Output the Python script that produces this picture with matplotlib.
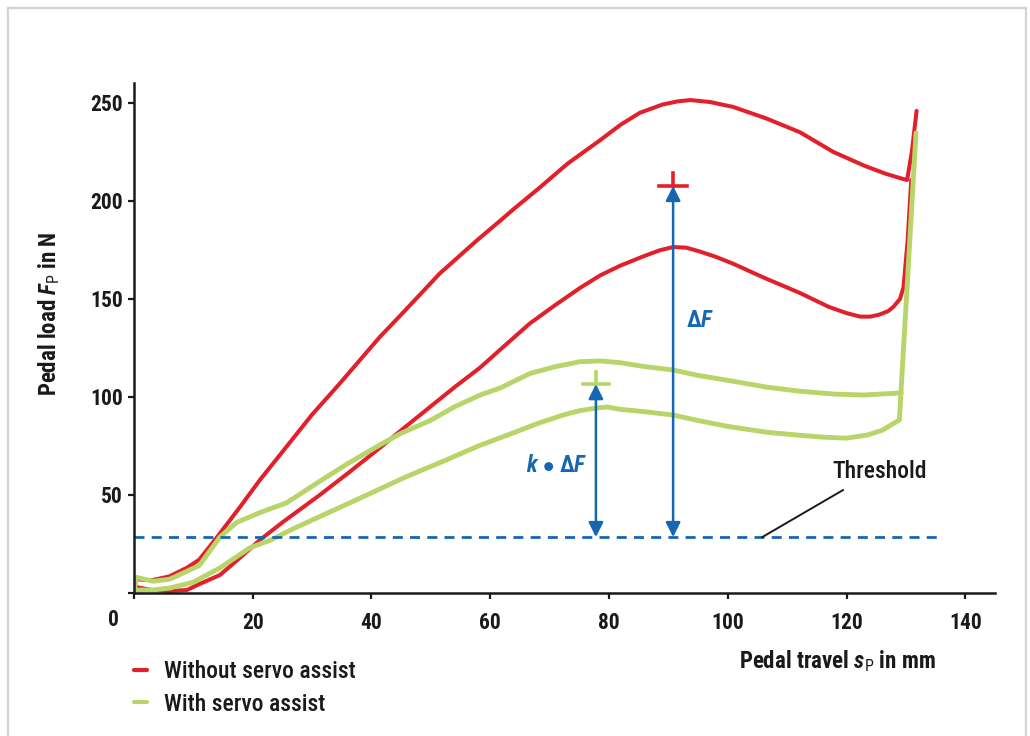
import matplotlib
matplotlib.use("Agg")
import matplotlib.pyplot as plt
from matplotlib.lines import Line2D
from matplotlib import font_manager

# pick a narrow font if one is installed
installed = {f.name for f in font_manager.fontManager.ttflist}
FONT = 'DejaVu Sans'
for cand in ['Roboto Condensed', 'Liberation Sans Narrow', 'Open Sans Condensed', 'Roboto']:
    if cand in installed:
        FONT = cand
        break

plt.rcParams['font.family'] = [FONT, 'DejaVu Sans']
plt.rcParams['mathtext.fontset'] = 'custom'
plt.rcParams['mathtext.rm'] = FONT
plt.rcParams['mathtext.bf'] = FONT + ':bold'
plt.rcParams['mathtext.it'] = FONT + ':italic'
plt.rcParams['mathtext.bfit'] = FONT + ':italic:bold'

# without servo assist, upper branch
red_up_x = [0, 0.4, 3, 6, 9, 11, 14, 17.9, 21.2, 25, 30, 34.7, 41.4, 45, 51.5, 57.8, 61.7, 64, 68.4, 73,
            78.5, 82, 85.2, 89, 91.5, 93.7, 97, 100.9, 106.6, 112.2, 117.8, 123, 126.5, 129, 130.2, 131, 131.8]
red_up_y = [0, 7, 6.5, 8.5, 13, 17, 28.5, 44, 57.6, 72, 91, 107, 130.6, 142, 163, 180, 190, 196, 207, 219,
            231, 239, 245, 249.2, 250.8, 251.5, 250.5, 248, 242, 235, 225, 218, 214, 211.7, 210.7, 225, 246]

# without servo assist, lower branch
red_low_x = [0, 0.4, 3, 6, 8.9, 11, 14.5, 17.5, 21.2, 25, 31.3, 36, 41.4, 45, 49.9, 54, 58.3, 62, 66.7, 71,
             75.1, 78.5, 81.9, 86, 88.5, 90.8, 93, 95, 98, 100.9, 106, 112.2, 117, 120, 122.3, 124, 125.5,
             127, 127.9, 129, 129.6, 130.3, 130.9]
red_low_y = [0, 3, 1.5, 1, 1.5, 4.5, 9.2, 17, 27, 36, 50, 61, 74, 83, 95, 105, 115, 125, 137.6, 147,
             155.6, 162, 167, 172, 174.8, 176.5, 176.2, 174.5, 171.5, 168, 161, 153, 146, 142.8, 141, 141, 142,
             143.8, 146, 150, 156, 180, 210.7]

# with servo assist, upper branch
green_up_x = [0, 0.4, 3.2, 6, 11, 14.5, 17.3, 21.2, 25.7, 31.3, 36, 41.4, 45, 49.9, 54, 58.3, 61.7, 66.7,
              71, 75.1, 78.5, 81.9, 86, 90.8, 95, 100, 106.6, 112, 117.8, 123, 128.6, 129.2]
green_up_y = [0, 8, 6, 7, 14, 28.6, 36, 41, 46, 57, 66, 75.5, 81.5, 88, 95, 101, 104.6, 112,
              115.5, 118, 118.4, 117.5, 115.5, 113.8, 111, 108.5, 105, 103, 101.5, 101, 102, 102]

# with servo assist, lower branch
green_low_x = [0, 0.4, 3, 6, 10, 14.5, 19.5, 23, 27, 31.3, 36, 41, 46, 52.7, 58, 63.8, 68, 72.3, 75, 77.9,
               79.7, 81.9, 86, 90.8, 95, 100, 106.6, 112, 116, 120, 123.5, 126, 128.9, 131.7]
green_low_y = [0, 1.5, 1.5, 2.5, 5.5, 12.8, 23, 27, 33, 39, 45.5, 52.5, 59.5, 68, 75, 81.6, 86.5, 90.8, 93, 94.4,
               94.9, 93.7, 92.5, 90.8, 88, 85, 82, 80.5, 79.5, 79, 80.6, 83, 88.3, 234.7]

threshold = 28.5
threshold_end = 136.3
dF_x, dF_top = 90.8, 207.7
kdF_x, kdF_top = 77.8, 106.6

x_ticks = [0, 20, 40, 60, 80, 100, 120, 140]
y_ticks = [0, 50, 100, 150, 200, 250]

RED = '#e2202b'
GREEN = '#b7d568'
BLUE = '#1766b2'
INK = '#1a1a1a'

fig = plt.figure(figsize=(10.3, 7.36), dpi=100)
ax = fig.add_axes([0.130, 0.1943, 0.836, 0.6924])

ax.plot(red_up_x, red_up_y, color=RED, lw=2.9, solid_capstyle='round', solid_joinstyle='round',
        label='Without servo assist')
ax.plot(red_low_x, red_low_y, color=RED, lw=2.9, solid_capstyle='round', solid_joinstyle='round')
ax.plot(green_up_x, green_up_y, color=GREEN, lw=3.5, solid_capstyle='round', solid_joinstyle='round',
        label='With servo assist')
ax.plot(green_low_x, green_low_y, color=GREEN, lw=3.5, solid_capstyle='round', solid_joinstyle='round')

# threshold line
ax.plot([0, threshold_end], [threshold, threshold], color=BLUE, lw=2.0, linestyle=(0, (3.6, 2.6)))

# crosses marking the peaks
ax.plot([dF_x - 2.4, dF_x + 2.4], [dF_top, dF_top], color=RED, lw=2.6)
ax.plot([dF_x, dF_x], [dF_top, dF_top + 6.5], color=RED, lw=2.6)
ax.plot([kdF_x - 2.2, kdF_x + 2.2], [kdF_top, kdF_top], color=GREEN, lw=2.6)
ax.plot([kdF_x, kdF_x], [kdF_top, kdF_top + 6.3], color=GREEN, lw=2.6)

# double arrows
for ax_x, top in [(dF_x, dF_top), (kdF_x, kdF_top)]:
    ax.annotate('', xy=(ax_x, top), xytext=(ax_x, threshold),
                arrowprops=dict(arrowstyle='<|-|>', color=BLUE, lw=1.8,
                                mutation_scale=22, shrinkA=0, shrinkB=0))

ax.text(93.0, 139, r'$\mathbf{\Delta}\mathbfit{F}$', color=BLUE, fontsize=16.5,
        ha='left', va='center')
ax.text(76.4, 65, r'$\mathbfit{k}\ \mathbf{\bullet}\ \mathbf{\Delta}\mathbfit{F}$', color=BLUE,
        fontsize=16.5, ha='right', va='center')

ax.text(125.5, 62, 'Threshold', fontsize=17, fontweight='medium', color=INK, ha='center', va='center')
ax.plot([105.8, 119.4], [threshold, 52.5], color=INK, lw=1.4)

ax.set_xlim(0, 145)
ax.set_ylim(0, 260)
ax.set_xticks(x_ticks)
ax.set_xticklabels([''] + [str(v) for v in x_ticks[1:]])
ax.set_yticks(y_ticks)
ax.set_yticklabels([''] + [str(v) for v in y_ticks[1:]])
ax.tick_params(axis='both', direction='out', length=4, width=1.6, colors=INK, labelsize=15.5)
ax.tick_params(axis='x', pad=10)
ax.tick_params(axis='y', pad=4)
for lab in ax.get_xticklabels() + ax.get_yticklabels():
    lab.set_fontweight('bold')
for s in ['top', 'right']:
    ax.spines[s].set_visible(False)
for s in ['left', 'bottom']:
    ax.spines[s].set_linewidth(1.8)
    ax.spines[s].set_color(INK)

fig.text(113 / 1030, 1 - 620 / 736, '0', fontsize=15.5, fontweight='bold', color=INK,
         ha='center', va='center')

ax.set_ylabel(r'Pedal load $\mathbfit{F}_{\mathrm{P}}$ in N', fontsize=16.5, fontweight='bold', color=INK)
ax.yaxis.set_label_coords(-0.084, 0.547)
fig.text(837 / 1030, 1 - 661 / 736, r'Pedal travel $\mathbfit{s}_{\mathrm{P}}$ in mm', fontsize=16.5,
         fontweight='bold', color=INK, ha='center', va='center')

leg = ax.legend(loc='upper left', bbox_to_anchor=(113 / 1030, 1 - 639 / 736), bbox_transform=fig.transFigure,
                frameon=False, fontsize=17, handlelength=0.55, handletextpad=0.7, labelspacing=0.4)
for h in leg.legend_handles:
    h.set_linewidth(3)
for t in leg.get_texts():
    t.set_color(INK)
    t.set_fontweight('medium')

# light frame around the figure
fc = '#d3d3d3'
fig.add_artist(Line2D([8 / 1030, 8 / 1030], [0, 1 - 8 / 736], color=fc, lw=1.6, transform=fig.transFigure))
fig.add_artist(Line2D([8 / 1030, 1026 / 1030], [1 - 8 / 736, 1 - 8 / 736], color=fc, lw=1.6,
                      transform=fig.transFigure))
fig.add_artist(Line2D([1026 / 1030, 1026 / 1030], [0, 1 - 8 / 736], color=fc, lw=1.6,
                      transform=fig.transFigure))

fig.savefig('out.png', dpi=100)
